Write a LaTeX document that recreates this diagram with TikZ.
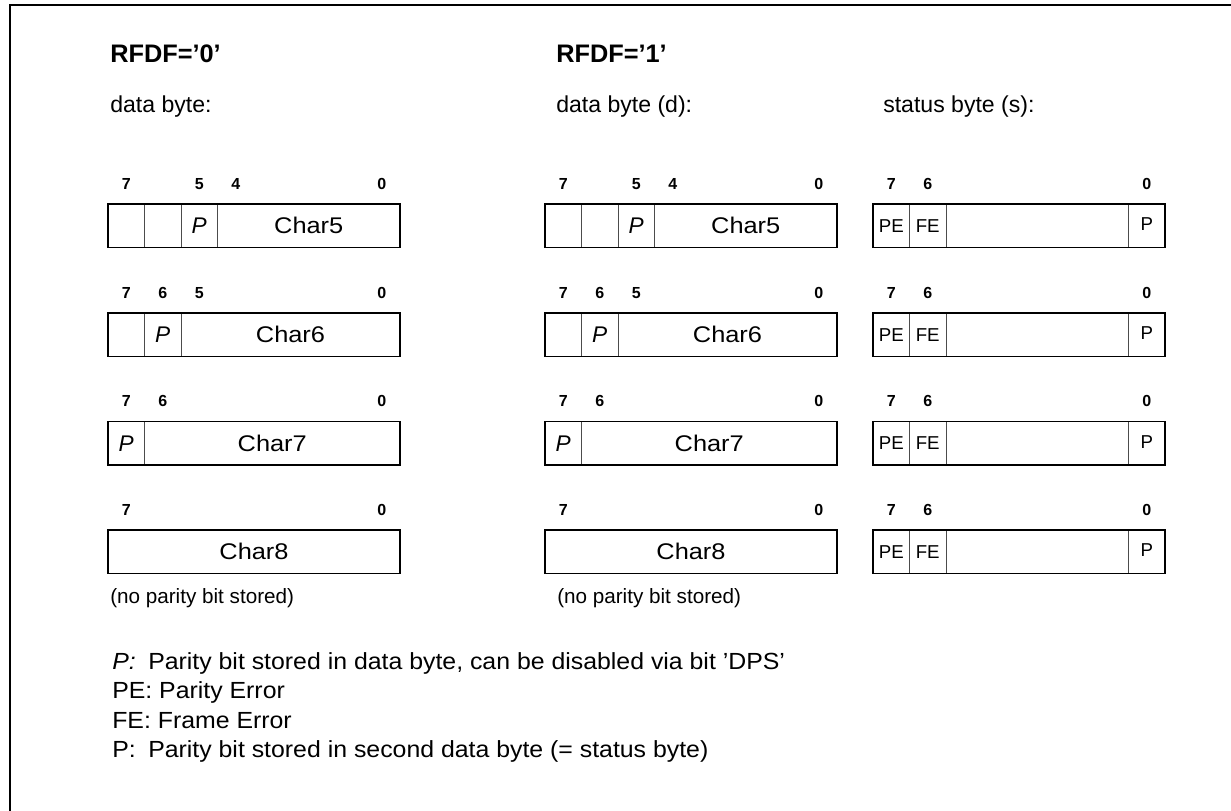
\documentclass[tikz,border=0pt]{standalone}
\usepackage{fontspec}
\setmainfont{Liberation Sans}
\newfontfamily\widefont[FakeStretch=1.12]{Liberation Sans}
\newfontfamily\legfont[FakeStretch=1.065]{Liberation Sans}
\begin{document}
\begin{tikzpicture}[x=0.75pt,y=-0.75pt,
  frameline/.style={line width=2.2pt,line cap=rect},
  cell/.style={draw=black!70,line width=0.6pt,inner sep=0pt,outer sep=0pt,
    minimum height=32.6pt,anchor=north west},
  outer/.style={draw=black,line width=1.1pt},
  w1/.style={minimum width=27.375pt},
  w5/.style={minimum width=136.875pt},
  w6/.style={minimum width=164.25pt},
  w7/.style={minimum width=191.625pt},
  w8/.style={minimum width=219pt},
  heading/.style={anchor=base west,inner sep=0pt,font=\fontsize{19}{22}\selectfont\bfseries},
  sub/.style={anchor=base west,inner sep=0pt,font=\fontsize{17.3}{20}\selectfont},
  bit/.style={anchor=base,inner sep=0pt,font=\fontsize{12}{14}\selectfont\bfseries},
  ptext/.style={font=\fontsize{17}{20}\selectfont\itshape},
  chartext/.style={font=\widefont\fontsize{17}{20}\selectfont},
  stext/.style={font=\fontsize{14}{16}\selectfont},
  note/.style={anchor=base west,inner sep=0pt,font=\fontsize{15.5}{18}\selectfont},
  legend/.style={anchor=base west,inner sep=0pt,font=\legfont\fontsize{17.5}{20}\selectfont}]
\useasboundingbox (0,0) rectangle (1231,810);
% frame
\coordinate (ftl) at (10,5);
\coordinate (ftr) at (1231,5);
\coordinate (fbl) at (10,810);
\draw[frameline] (ftr) -- (ftl) -- (fbl);
% headings
\node[heading] (h0) at (110,62) {RFDF=’0’};
\node[heading] (h1) at (556,62) {RFDF=’1’};
\node[sub] (s0) at (110,112) {data byte:};
\node[sub] (s1) at (556,112) {data byte (d):};
\node[sub] (s2) at (883,112) {status byte (s):};
% ---------- column A ----------
\node[cell,w1] (a1c1) at (108,204) {};
\node[cell,w1] (a1c2) at (a1c1.north east) {};
\node[cell,w1,ptext] (a1c3) at (a1c2.north east) {P};
\node[cell,w5,chartext] (a1c4) at (a1c3.north east) {Char5};
\draw[outer] (a1c1.north west) rectangle (a1c4.south east);
\node[cell,w1] (a2c1) at (108,313) {};
\node[cell,w1,ptext] (a2c2) at (a2c1.north east) {P};
\node[cell,w6,chartext] (a2c3) at (a2c2.north east) {Char6};
\draw[outer] (a2c1.north west) rectangle (a2c3.south east);
\node[cell,w1,ptext] (a3c1) at (108,421.5) {P};
\node[cell,w7,chartext] (a3c2) at (a3c1.north east) {Char7};
\draw[outer] (a3c1.north west) rectangle (a3c2.south east);
\node[cell,w8,chartext] (a4c1) at (108,530) {Char8};
\draw[outer] (a4c1.north west) rectangle (a4c1.south east);
% ---------- column B ----------
\node[cell,w1] (b1c1) at (545,204) {};
\node[cell,w1] (b1c2) at (b1c1.north east) {};
\node[cell,w1,ptext] (b1c3) at (b1c2.north east) {P};
\node[cell,w5,chartext] (b1c4) at (b1c3.north east) {Char5};
\draw[outer] (b1c1.north west) rectangle (b1c4.south east);
\node[cell,w1] (b2c1) at (545,313) {};
\node[cell,w1,ptext] (b2c2) at (b2c1.north east) {P};
\node[cell,w6,chartext] (b2c3) at (b2c2.north east) {Char6};
\draw[outer] (b2c1.north west) rectangle (b2c3.south east);
\node[cell,w1,ptext] (b3c1) at (545,421.5) {P};
\node[cell,w7,chartext] (b3c2) at (b3c1.north east) {Char7};
\draw[outer] (b3c1.north west) rectangle (b3c2.south east);
\node[cell,w8,chartext] (b4c1) at (545,530) {Char8};
\draw[outer] (b4c1.north west) rectangle (b4c1.south east);
% ---------- column C (status) ----------
\foreach \r/\y in {1/204,2/313,3/421.5,4/530}{
  \node[cell,w1,stext] (c\r c1) at (873,\y) {PE};
  \node[cell,w1,stext] (c\r c2) at (c\r c1.north east) {FE};
  \node[cell,w5] (c\r c3) at (c\r c2.north east) {};
  \node[cell,w1,stext] (c\r c4) at (c\r c3.north east) {\raisebox{2pt}{P}};
  \draw[outer] (c\r c1.north west) rectangle (c\r c4.south east);
}
% ---------- bit numbers ----------
\foreach \x/\t in {126.25/7,199.25/5,235.75/4,381.75/0,
                   563.25/7,636.25/5,672.75/4,818.75/0}{
  \node[bit] at (\x,189) {\t};}
\foreach \x/\t in {126.25/7,162.75/6,199.25/5,381.75/0,
                   563.25/7,599.75/6,636.25/5,818.75/0}{
  \node[bit] at (\x,298) {\t};}
\foreach \x/\t in {126.25/7,162.75/6,381.75/0,
                   563.25/7,599.75/6,818.75/0}{
  \node[bit] at (\x,406.5) {\t};}
\foreach \x/\t in {126.25/7,381.75/0,563.25/7,818.75/0}{
  \node[bit] at (\x,515) {\t};}
\foreach \y in {189,298,406.5,515}{
  \node[bit] at (891.25,\y) {7};
  \node[bit] at (927.75,\y) {6};
  \node[bit] at (1146.75,\y) {0};}
% notes
\node[note] (n0) at (110,603) {(no parity bit stored)};
\node[note] (n1) at (557,603) {(no parity bit stored)};
% legend
\node[legend] (l1a) at (112,669) {\itshape P:};
\node[legend] (l1b) at (148,669) {Parity bit stored in data byte, can be disabled via bit ’DPS’};
\node[legend] (l2) at (112,698.5) {PE: Parity Error};
\node[legend] (l3) at (112,728) {FE: Frame Error};
\node[legend] (l4a) at (112,757.5) {P:};
\node[legend] (l4b) at (148,757.5) {Parity bit stored in second data byte (= status byte)};
\end{tikzpicture}
\end{document}
